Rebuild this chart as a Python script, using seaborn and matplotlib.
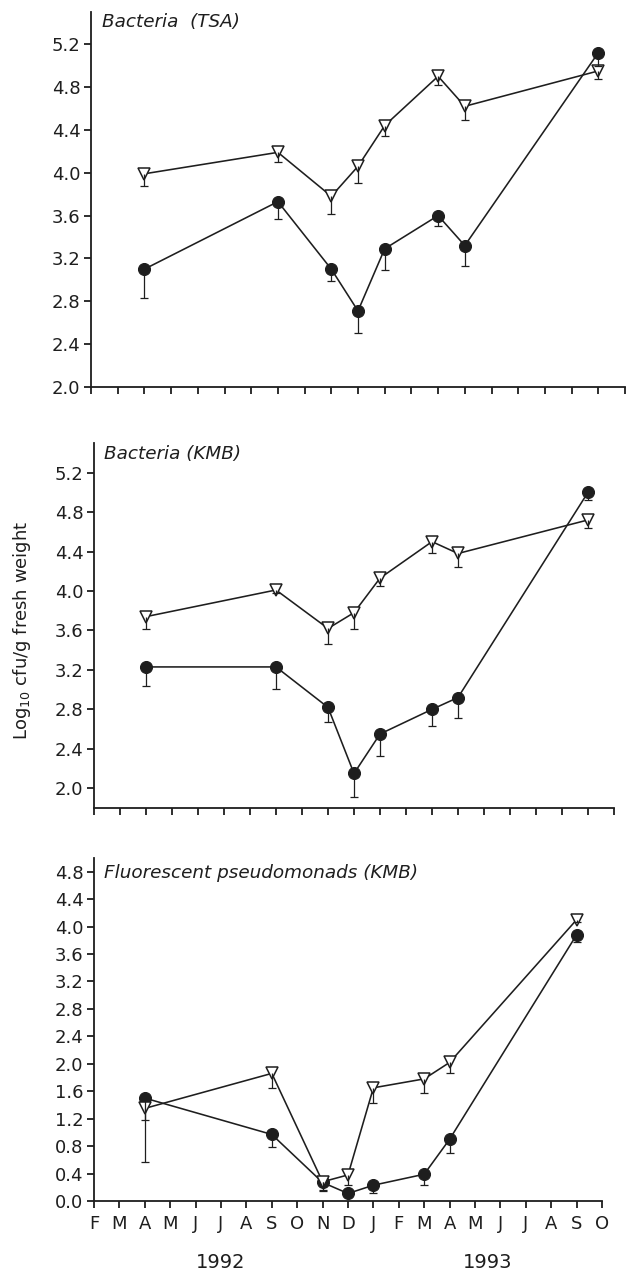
import numpy as np
import pandas as pd
import matplotlib
matplotlib.use("Agg")
import matplotlib.pyplot as plt
import seaborn as sns

# ---------------- data ----------------
month_labels = ["F", "M", "A", "M", "J", "J", "A", "S", "O", "N", "D",
                "J", "F", "M", "A", "M", "J", "J", "A", "S", "O"]
sample_months = [2, 7, 9, 10, 11, 13, 14, 19]   # index into month_labels (Apr 92 ... Sep 93)
years = ["1992", "1993"]
year_pos = [5.0, 15.5]

panel_titles = ["Bacteria  (TSA)", "Bacteria (KMB)", "Fluorescent pseudomonads (KMB)"]

tsa_tri = [3.99, 4.19, 3.78, 4.06, 4.44, 4.90, 4.62, 4.95]
tsa_tri_err = [0.11, 0.09, 0.17, 0.16, 0.10, 0.08, 0.13, 0.08]
tsa_circ = [3.10, 3.73, 3.10, 2.71, 3.29, 3.60, 3.32, 5.12]
tsa_circ_err = [0.27, 0.16, 0.11, 0.21, 0.20, 0.10, 0.19, 0.12]

kmb_tri = [3.74, 4.01, 3.62, 3.78, 4.13, 4.50, 4.38, 4.72]
kmb_tri_err = [0.13, 0.03, 0.16, 0.17, 0.08, 0.11, 0.14, 0.08]
kmb_circ = [3.23, 3.23, 2.82, 2.15, 2.55, 2.80, 2.92, 5.00]
kmb_circ_err = [0.19, 0.22, 0.15, 0.24, 0.22, 0.17, 0.21, 0.08]

fp_tri = [1.35, 1.86, 0.28, 0.38, 1.65, 1.78, 2.02, 4.10]
fp_tri_err = [0.78, 0.21, 0.12, 0.15, 0.22, 0.21, 0.16, 0.04]
fp_circ = [1.50, 0.97, 0.27, 0.11, 0.23, 0.39, 0.90, 3.88]
fp_circ_err = [0.32, 0.19, 0.12, 0.03, 0.11, 0.16, 0.20, 0.11]

ylims = [(2.0, 5.5), (1.8, 5.5), (0.0, 5.0)]
yticks = [np.arange(2.0, 5.21, 0.4), np.arange(2.0, 5.21, 0.4), np.arange(0.0, 4.81, 0.4)]

# ---------------- style ----------------
sns.set_style("ticks")
plt.rcParams["font.family"] = ["DejaVu Sans"]
plt.rcParams["mathtext.default"] = "regular"
INK = "#1e1e1e"

W, H = 629, 1275
fig = plt.figure(figsize=(W / 100, H / 100), dpi=100)

# axes boxes in pixels: left, right, top, bottom
boxes = [(91, 625, 12, 387), (94, 614, 443, 808), (94, 602, 858, 1201)]
title_offsets = [10, 11, 15]

panels = [
    (tsa_tri, tsa_tri_err, tsa_circ, tsa_circ_err),
    (kmb_tri, kmb_tri_err, kmb_circ, kmb_circ_err),
    (fp_tri, fp_tri_err, fp_circ, fp_circ_err),
]

for i, ((tri, tri_e, circ, circ_e), (l, r, t, b)) in enumerate(zip(panels, boxes)):
    ax = fig.add_axes([l / W, 1 - b / H, (r - l) / W, (b - t) / H])
    df = pd.DataFrame({"month": sample_months, "tri": tri, "circ": circ})

    sns.lineplot(data=df, x="month", y="circ", ax=ax, sort=False, errorbar=None,
                 color=INK, linewidth=1.15, marker="o", markersize=8.6,
                 markerfacecolor=INK, markeredgecolor=INK, markeredgewidth=0.8,
                 legend=False, zorder=3)
    sns.lineplot(data=df, x="month", y="tri", ax=ax, sort=False, errorbar=None,
                 color=INK, linewidth=1.15, marker="v", markersize=8.8,
                 markerfacecolor="white", markeredgecolor=INK, markeredgewidth=1.1,
                 legend=False, zorder=3)

    for vals, errs in ((circ, circ_e), (tri, tri_e)):
        vals = np.asarray(vals)
        errs = np.asarray(errs)
        _, caps, _ = ax.errorbar(sample_months, vals, yerr=[errs, np.zeros_like(errs)],
                                 fmt="none", ecolor=INK, elinewidth=0.9,
                                 capsize=3.2, capthick=0.9, zorder=4)
        for c in caps:
            if np.allclose(c.get_ydata(), vals):
                c.set_visible(False)

    ax.set_xlim(0, 20)
    ax.set_ylim(*ylims[i])
    ax.set_xticks(range(len(month_labels)))
    ax.set_yticks(yticks[i])
    ax.set_yticklabels([f"{v:.1f}" for v in yticks[i]])
    if i == 2:
        ax.set_xticklabels(month_labels, fontsize=14.5, color=INK)
        for yr, xp in zip(years, year_pos):
            ax.text(xp, -0.18, yr, transform=ax.get_xaxis_transform(),
                    ha="center", va="center", fontsize=14, color=INK)
    else:
        ax.set_xticklabels([])
    ax.set_xlabel("")
    ax.set_ylabel("")
    sns.despine(ax=ax)
    for s in ("left", "bottom"):
        ax.spines[s].set_linewidth(1.3)
        ax.spines[s].set_color(INK)
    ax.tick_params(axis="both", direction="out", length=5, width=1.3, color=INK,
                   labelcolor=INK, labelsize=13, pad=2.5)
    ax.tick_params(axis="x", pad=5)
    ax.text(0.02, 1.0 - title_offsets[i] / (b - t), panel_titles[i], transform=ax.transAxes,
            ha="left", va="center", fontsize=13.2, style="italic", color=INK)

fig.text(22 / W, 1 - 630 / H, "Log$_{10}$ cfu/g fresh weight", rotation=90,
         ha="center", va="center", fontsize=13, color=INK)

fig.savefig("out.png", dpi=100, facecolor="white")
